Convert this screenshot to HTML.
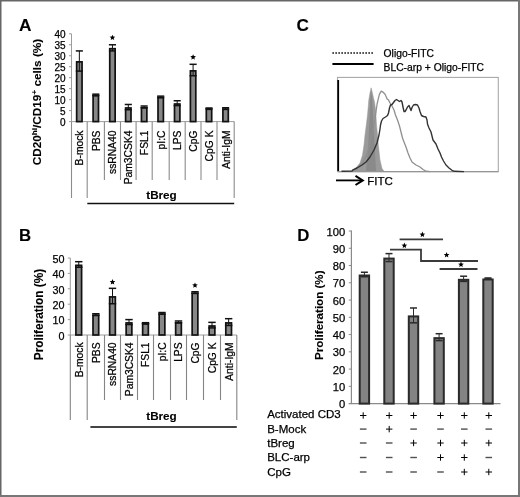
<!DOCTYPE html>
<html><head><meta charset="utf-8"><style>
html,body{margin:0;padding:0;background:#fff;width:520px;height:497px;overflow:hidden;}
svg{filter:blur(0.45px);} svg text{font-family:"Liberation Sans", sans-serif; stroke:#000; stroke-width:0.25px; paint-order:stroke;} svg text[font-weight=bold]{stroke-width:0.1px;}
</style></head><body>
<svg width="520" height="497" viewBox="0 0 520 497" style="position:absolute;left:0;top:0" font-family='"Liberation Sans", sans-serif'>
<rect x="0" y="0" width="520" height="497" fill="#fff"/>
<text x="18.90" y="31.30" font-size="17.3" font-weight="bold" text-anchor="start" fill="#000">A</text>
<text x="18.90" y="241.00" font-size="16.8" font-weight="bold" text-anchor="start" fill="#000">B</text>
<text x="296.60" y="31.10" font-size="17.2" font-weight="bold" text-anchor="start" fill="#000">C</text>
<text x="297.30" y="241.20" font-size="16.8" font-weight="bold" text-anchor="start" fill="#000">D</text>
<line x1="71.50" y1="33.80" x2="71.50" y2="121.60" stroke="#9c9c9c" stroke-width="1"/>
<line x1="69.00" y1="121.60" x2="71.50" y2="121.60" stroke="#9c9c9c" stroke-width="1"/>
<text x="65.50" y="126.10" font-size="10" text-anchor="end" fill="#000">0</text>
<line x1="69.00" y1="110.62" x2="71.50" y2="110.62" stroke="#9c9c9c" stroke-width="1"/>
<text x="65.50" y="115.12" font-size="10" text-anchor="end" fill="#000">5</text>
<line x1="69.00" y1="99.65" x2="71.50" y2="99.65" stroke="#9c9c9c" stroke-width="1"/>
<text x="65.50" y="104.15" font-size="10" text-anchor="end" fill="#000">10</text>
<line x1="69.00" y1="88.67" x2="71.50" y2="88.67" stroke="#9c9c9c" stroke-width="1"/>
<text x="65.50" y="93.17" font-size="10" text-anchor="end" fill="#000">15</text>
<line x1="69.00" y1="77.70" x2="71.50" y2="77.70" stroke="#9c9c9c" stroke-width="1"/>
<text x="65.50" y="82.20" font-size="10" text-anchor="end" fill="#000">20</text>
<line x1="69.00" y1="66.72" x2="71.50" y2="66.72" stroke="#9c9c9c" stroke-width="1"/>
<text x="65.50" y="71.22" font-size="10" text-anchor="end" fill="#000">25</text>
<line x1="69.00" y1="55.75" x2="71.50" y2="55.75" stroke="#9c9c9c" stroke-width="1"/>
<text x="65.50" y="60.25" font-size="10" text-anchor="end" fill="#000">30</text>
<line x1="69.00" y1="44.78" x2="71.50" y2="44.78" stroke="#9c9c9c" stroke-width="1"/>
<text x="65.50" y="49.28" font-size="10" text-anchor="end" fill="#000">35</text>
<line x1="69.00" y1="33.80" x2="71.50" y2="33.80" stroke="#9c9c9c" stroke-width="1"/>
<text x="65.50" y="38.30" font-size="10" text-anchor="end" fill="#000">40</text>
<line x1="71.50" y1="121.60" x2="234.20" y2="121.60" stroke="#9c9c9c" stroke-width="1"/>
<line x1="71.50" y1="121.60" x2="71.50" y2="198.00" stroke="#8c8c8c" stroke-width="1.1"/>
<line x1="87.20" y1="121.60" x2="87.20" y2="198.00" stroke="#8c8c8c" stroke-width="1.1"/>
<line x1="104.40" y1="121.60" x2="104.40" y2="180.00" stroke="#8c8c8c" stroke-width="1.1"/>
<line x1="120.50" y1="121.60" x2="120.50" y2="180.00" stroke="#8c8c8c" stroke-width="1.1"/>
<line x1="136.10" y1="121.60" x2="136.10" y2="180.00" stroke="#8c8c8c" stroke-width="1.1"/>
<line x1="152.20" y1="121.60" x2="152.20" y2="180.00" stroke="#8c8c8c" stroke-width="1.1"/>
<line x1="169.20" y1="121.60" x2="169.20" y2="180.00" stroke="#8c8c8c" stroke-width="1.1"/>
<line x1="185.20" y1="121.60" x2="185.20" y2="180.00" stroke="#8c8c8c" stroke-width="1.1"/>
<line x1="201.00" y1="121.60" x2="201.00" y2="180.00" stroke="#8c8c8c" stroke-width="1.1"/>
<line x1="217.00" y1="121.60" x2="217.00" y2="180.00" stroke="#8c8c8c" stroke-width="1.1"/>
<line x1="234.20" y1="121.60" x2="234.20" y2="198.00" stroke="#8c8c8c" stroke-width="1.1"/>
<rect x="76.65" y="61.87" width="5.40" height="59.73" fill="#878787" stroke="#111" stroke-width="1.7"/>
<line x1="79.35" y1="50.92" x2="79.35" y2="71.11" stroke="#111" stroke-width="1"/>
<line x1="75.80" y1="50.92" x2="82.90" y2="50.92" stroke="#111" stroke-width="1.5"/>
<line x1="75.80" y1="71.11" x2="82.90" y2="71.11" stroke="#111" stroke-width="1.5"/>
<text x="83.35" y="130.50" font-size="10.3" text-anchor="end" fill="#000" transform="rotate(-90 83.35 130.5)">B-mock</text>
<rect x="93.10" y="95.67" width="5.40" height="25.93" fill="#878787" stroke="#111" stroke-width="1.7"/>
<line x1="95.80" y1="94.16" x2="95.80" y2="95.48" stroke="#111" stroke-width="1"/>
<line x1="92.25" y1="94.16" x2="99.35" y2="94.16" stroke="#111" stroke-width="1.5"/>
<line x1="92.25" y1="95.48" x2="99.35" y2="95.48" stroke="#111" stroke-width="1.5"/>
<text x="99.80" y="130.50" font-size="10.3" text-anchor="end" fill="#000" transform="rotate(-90 99.80000000000001 130.5)">PBS</text>
<rect x="109.75" y="48.70" width="5.40" height="72.90" fill="#878787" stroke="#111" stroke-width="1.7"/>
<line x1="112.45" y1="44.78" x2="112.45" y2="50.92" stroke="#111" stroke-width="1"/>
<line x1="108.90" y1="44.78" x2="116.00" y2="44.78" stroke="#111" stroke-width="1.5"/>
<line x1="108.90" y1="50.92" x2="116.00" y2="50.92" stroke="#111" stroke-width="1.5"/>
<polygon points="112.45,34.68 113.24,36.58 115.30,36.75 113.73,38.09 114.21,40.10 112.45,39.03 110.69,40.10 111.17,38.09 109.60,36.75 111.66,36.58" fill="#000"/>
<text x="116.45" y="130.50" font-size="10.3" text-anchor="end" fill="#000" transform="rotate(-90 116.45 130.5)">ssRNA40</text>
<rect x="125.60" y="107.96" width="5.40" height="13.64" fill="#878787" stroke="#111" stroke-width="1.7"/>
<line x1="128.30" y1="104.48" x2="128.30" y2="109.75" stroke="#111" stroke-width="1"/>
<line x1="124.75" y1="104.48" x2="131.85" y2="104.48" stroke="#111" stroke-width="1.5"/>
<line x1="124.75" y1="109.75" x2="131.85" y2="109.75" stroke="#111" stroke-width="1.5"/>
<text x="132.30" y="130.50" font-size="10.3" text-anchor="end" fill="#000" transform="rotate(-90 132.3 130.5)">Pam3CSK4</text>
<rect x="141.45" y="107.74" width="5.40" height="13.86" fill="#878787" stroke="#111" stroke-width="1.7"/>
<line x1="144.15" y1="106.02" x2="144.15" y2="107.77" stroke="#111" stroke-width="1"/>
<line x1="140.60" y1="106.02" x2="147.70" y2="106.02" stroke="#111" stroke-width="1.5"/>
<line x1="140.60" y1="107.77" x2="147.70" y2="107.77" stroke="#111" stroke-width="1.5"/>
<text x="148.15" y="130.50" font-size="10.3" text-anchor="end" fill="#000" transform="rotate(-90 148.14999999999998 130.5)">FSL1</text>
<rect x="158.00" y="97.65" width="5.40" height="23.95" fill="#878787" stroke="#111" stroke-width="1.7"/>
<line x1="160.70" y1="96.14" x2="160.70" y2="97.45" stroke="#111" stroke-width="1"/>
<line x1="157.15" y1="96.14" x2="164.25" y2="96.14" stroke="#111" stroke-width="1.5"/>
<line x1="157.15" y1="97.45" x2="164.25" y2="97.45" stroke="#111" stroke-width="1.5"/>
<text x="164.70" y="130.50" font-size="10.3" text-anchor="end" fill="#000" transform="rotate(-90 164.7 130.5)">pI:C</text>
<rect x="174.50" y="104.01" width="5.40" height="17.59" fill="#878787" stroke="#111" stroke-width="1.7"/>
<line x1="177.20" y1="100.75" x2="177.20" y2="105.58" stroke="#111" stroke-width="1"/>
<line x1="173.65" y1="100.75" x2="180.75" y2="100.75" stroke="#111" stroke-width="1.5"/>
<line x1="173.65" y1="105.58" x2="180.75" y2="105.58" stroke="#111" stroke-width="1.5"/>
<text x="181.20" y="130.50" font-size="10.3" text-anchor="end" fill="#000" transform="rotate(-90 181.2 130.5)">LPS</text>
<rect x="190.40" y="70.87" width="5.40" height="50.73" fill="#878787" stroke="#111" stroke-width="1.7"/>
<line x1="193.10" y1="64.31" x2="193.10" y2="75.72" stroke="#111" stroke-width="1"/>
<line x1="189.55" y1="64.31" x2="196.65" y2="64.31" stroke="#111" stroke-width="1.5"/>
<line x1="189.55" y1="75.72" x2="196.65" y2="75.72" stroke="#111" stroke-width="1.5"/>
<polygon points="193.10,54.21 193.89,56.12 195.95,56.28 194.38,57.63 194.86,59.64 193.10,58.56 191.34,59.64 191.82,57.63 190.25,56.28 192.31,56.12" fill="#000"/>
<text x="197.10" y="130.50" font-size="10.3" text-anchor="end" fill="#000" transform="rotate(-90 197.1 130.5)">CpG</text>
<rect x="206.30" y="109.28" width="5.40" height="12.32" fill="#878787" stroke="#111" stroke-width="1.7"/>
<line x1="209.00" y1="107.99" x2="209.00" y2="108.87" stroke="#111" stroke-width="1"/>
<line x1="205.45" y1="107.99" x2="212.55" y2="107.99" stroke="#111" stroke-width="1.5"/>
<line x1="205.45" y1="108.87" x2="212.55" y2="108.87" stroke="#111" stroke-width="1.5"/>
<text x="213.00" y="130.50" font-size="10.3" text-anchor="end" fill="#000" transform="rotate(-90 213.0 130.5)">CpG K</text>
<rect x="222.90" y="109.28" width="5.40" height="12.32" fill="#878787" stroke="#111" stroke-width="1.7"/>
<line x1="225.60" y1="107.77" x2="225.60" y2="109.09" stroke="#111" stroke-width="1"/>
<line x1="222.05" y1="107.77" x2="229.15" y2="107.77" stroke="#111" stroke-width="1.5"/>
<line x1="222.05" y1="109.09" x2="229.15" y2="109.09" stroke="#111" stroke-width="1.5"/>
<text x="229.60" y="130.50" font-size="10.3" text-anchor="end" fill="#000" transform="rotate(-90 229.6 130.5)">Anti-IgM</text>
<line x1="87.30" y1="203.60" x2="234.20" y2="203.60" stroke="#111" stroke-width="1.5"/>
<text x="161.50" y="198.60" font-size="11.7" font-weight="bold" text-anchor="middle" fill="#000">tBreg</text>
<line x1="70.30" y1="258.00" x2="70.30" y2="335.00" stroke="#9c9c9c" stroke-width="1"/>
<line x1="67.80" y1="335.00" x2="70.30" y2="335.00" stroke="#9c9c9c" stroke-width="1"/>
<text x="64.50" y="339.80" font-size="10.8" text-anchor="end" fill="#000">0</text>
<line x1="67.80" y1="319.60" x2="70.30" y2="319.60" stroke="#9c9c9c" stroke-width="1"/>
<text x="64.50" y="324.40" font-size="10.8" text-anchor="end" fill="#000">10</text>
<line x1="67.80" y1="304.20" x2="70.30" y2="304.20" stroke="#9c9c9c" stroke-width="1"/>
<text x="64.50" y="309.00" font-size="10.8" text-anchor="end" fill="#000">20</text>
<line x1="67.80" y1="288.80" x2="70.30" y2="288.80" stroke="#9c9c9c" stroke-width="1"/>
<text x="64.50" y="293.60" font-size="10.8" text-anchor="end" fill="#000">30</text>
<line x1="67.80" y1="273.40" x2="70.30" y2="273.40" stroke="#9c9c9c" stroke-width="1"/>
<text x="64.50" y="278.20" font-size="10.8" text-anchor="end" fill="#000">40</text>
<line x1="67.80" y1="258.00" x2="70.30" y2="258.00" stroke="#9c9c9c" stroke-width="1"/>
<text x="64.50" y="262.80" font-size="10.8" text-anchor="end" fill="#000">50</text>
<line x1="70.30" y1="335.00" x2="236.80" y2="335.00" stroke="#9c9c9c" stroke-width="1"/>
<line x1="70.30" y1="335.00" x2="70.30" y2="420.00" stroke="#858585" stroke-width="1.1"/>
<line x1="87.20" y1="335.00" x2="87.20" y2="420.00" stroke="#858585" stroke-width="1.1"/>
<line x1="104.50" y1="335.00" x2="104.50" y2="400.00" stroke="#858585" stroke-width="1.1"/>
<line x1="120.50" y1="335.00" x2="120.50" y2="400.00" stroke="#858585" stroke-width="1.1"/>
<line x1="137.50" y1="335.00" x2="137.50" y2="400.00" stroke="#858585" stroke-width="1.1"/>
<line x1="153.50" y1="335.00" x2="153.50" y2="400.00" stroke="#858585" stroke-width="1.1"/>
<line x1="170.50" y1="335.00" x2="170.50" y2="400.00" stroke="#858585" stroke-width="1.1"/>
<line x1="186.50" y1="335.00" x2="186.50" y2="400.00" stroke="#858585" stroke-width="1.1"/>
<line x1="203.50" y1="335.00" x2="203.50" y2="400.00" stroke="#858585" stroke-width="1.1"/>
<line x1="220.50" y1="335.00" x2="220.50" y2="400.00" stroke="#858585" stroke-width="1.1"/>
<line x1="236.80" y1="335.00" x2="236.80" y2="420.00" stroke="#858585" stroke-width="1.1"/>
<rect x="75.90" y="265.32" width="5.70" height="69.68" fill="#878787" stroke="#111" stroke-width="1.7"/>
<line x1="78.75" y1="261.70" x2="78.75" y2="267.24" stroke="#111" stroke-width="1"/>
<line x1="75.05" y1="261.70" x2="82.45" y2="261.70" stroke="#111" stroke-width="1.5"/>
<line x1="75.05" y1="267.24" x2="82.45" y2="267.24" stroke="#111" stroke-width="1.5"/>
<text x="82.75" y="342.40" font-size="10.3" text-anchor="end" fill="#000" transform="rotate(-90 82.75 342.4)">B-mock</text>
<rect x="93.00" y="315.37" width="5.70" height="19.63" fill="#878787" stroke="#111" stroke-width="1.7"/>
<line x1="95.85" y1="313.75" x2="95.85" y2="315.29" stroke="#111" stroke-width="1"/>
<line x1="92.15" y1="313.75" x2="99.55" y2="313.75" stroke="#111" stroke-width="1.5"/>
<line x1="92.15" y1="315.29" x2="99.55" y2="315.29" stroke="#111" stroke-width="1.5"/>
<text x="99.85" y="342.40" font-size="10.3" text-anchor="end" fill="#000" transform="rotate(-90 99.85 342.4)">PBS</text>
<rect x="109.65" y="296.89" width="5.70" height="38.11" fill="#878787" stroke="#111" stroke-width="1.7"/>
<line x1="112.50" y1="288.34" x2="112.50" y2="303.74" stroke="#111" stroke-width="1"/>
<line x1="108.80" y1="288.34" x2="116.20" y2="288.34" stroke="#111" stroke-width="1.5"/>
<line x1="108.80" y1="303.74" x2="116.20" y2="303.74" stroke="#111" stroke-width="1.5"/>
<polygon points="112.50,279.04 113.29,280.95 115.35,281.11 113.78,282.46 114.26,284.47 112.50,283.39 110.74,284.47 111.22,282.46 109.65,281.11 111.71,280.95" fill="#000"/>
<text x="116.50" y="342.40" font-size="10.3" text-anchor="end" fill="#000" transform="rotate(-90 116.5 342.4)">ssRNA40</text>
<rect x="126.15" y="322.91" width="5.70" height="12.09" fill="#878787" stroke="#111" stroke-width="1.7"/>
<line x1="129.00" y1="319.60" x2="129.00" y2="324.53" stroke="#111" stroke-width="1"/>
<line x1="125.30" y1="319.60" x2="132.70" y2="319.60" stroke="#111" stroke-width="1.5"/>
<line x1="125.30" y1="324.53" x2="132.70" y2="324.53" stroke="#111" stroke-width="1.5"/>
<text x="133.00" y="342.40" font-size="10.3" text-anchor="end" fill="#000" transform="rotate(-90 133.0 342.4)">Pam3CSK4</text>
<rect x="142.65" y="323.99" width="5.70" height="11.01" fill="#878787" stroke="#111" stroke-width="1.7"/>
<line x1="145.50" y1="322.68" x2="145.50" y2="323.60" stroke="#111" stroke-width="1"/>
<line x1="141.80" y1="322.68" x2="149.20" y2="322.68" stroke="#111" stroke-width="1.5"/>
<line x1="141.80" y1="323.60" x2="149.20" y2="323.60" stroke="#111" stroke-width="1.5"/>
<text x="149.50" y="342.40" font-size="10.3" text-anchor="end" fill="#000" transform="rotate(-90 149.5 342.4)">FSL1</text>
<rect x="159.15" y="314.14" width="5.70" height="20.86" fill="#878787" stroke="#111" stroke-width="1.7"/>
<line x1="162.00" y1="312.52" x2="162.00" y2="314.06" stroke="#111" stroke-width="1"/>
<line x1="158.30" y1="312.52" x2="165.70" y2="312.52" stroke="#111" stroke-width="1.5"/>
<line x1="158.30" y1="314.06" x2="165.70" y2="314.06" stroke="#111" stroke-width="1.5"/>
<text x="166.00" y="342.40" font-size="10.3" text-anchor="end" fill="#000" transform="rotate(-90 166.0 342.4)">pI:C</text>
<rect x="175.65" y="322.76" width="5.70" height="12.24" fill="#878787" stroke="#111" stroke-width="1.7"/>
<line x1="178.50" y1="320.99" x2="178.50" y2="322.83" stroke="#111" stroke-width="1"/>
<line x1="174.80" y1="320.99" x2="182.20" y2="320.99" stroke="#111" stroke-width="1.5"/>
<line x1="174.80" y1="322.83" x2="182.20" y2="322.83" stroke="#111" stroke-width="1.5"/>
<text x="182.50" y="342.40" font-size="10.3" text-anchor="end" fill="#000" transform="rotate(-90 182.5 342.4)">LPS</text>
<rect x="192.15" y="293.35" width="5.70" height="41.65" fill="#878787" stroke="#111" stroke-width="1.7"/>
<line x1="195.00" y1="291.73" x2="195.00" y2="293.27" stroke="#111" stroke-width="1"/>
<line x1="191.30" y1="291.73" x2="198.70" y2="291.73" stroke="#111" stroke-width="1.5"/>
<line x1="191.30" y1="293.27" x2="198.70" y2="293.27" stroke="#111" stroke-width="1.5"/>
<polygon points="195.00,282.43 195.79,284.33 197.85,284.50 196.28,285.84 196.76,287.85 195.00,286.78 193.24,287.85 193.72,285.84 192.15,284.50 194.21,284.33" fill="#000"/>
<text x="199.00" y="342.40" font-size="10.3" text-anchor="end" fill="#000" transform="rotate(-90 199.0 342.4)">CpG</text>
<rect x="209.15" y="325.99" width="5.70" height="9.01" fill="#878787" stroke="#111" stroke-width="1.7"/>
<line x1="212.00" y1="322.37" x2="212.00" y2="327.92" stroke="#111" stroke-width="1"/>
<line x1="208.30" y1="322.37" x2="215.70" y2="322.37" stroke="#111" stroke-width="1.5"/>
<line x1="208.30" y1="327.92" x2="215.70" y2="327.92" stroke="#111" stroke-width="1.5"/>
<text x="216.00" y="342.40" font-size="10.3" text-anchor="end" fill="#000" transform="rotate(-90 216.0 342.4)">CpG K</text>
<rect x="225.80" y="322.91" width="5.70" height="12.09" fill="#878787" stroke="#111" stroke-width="1.7"/>
<line x1="228.65" y1="318.68" x2="228.65" y2="325.45" stroke="#111" stroke-width="1"/>
<line x1="224.95" y1="318.68" x2="232.35" y2="318.68" stroke="#111" stroke-width="1.5"/>
<line x1="224.95" y1="325.45" x2="232.35" y2="325.45" stroke="#111" stroke-width="1.5"/>
<text x="232.65" y="342.40" font-size="10.3" text-anchor="end" fill="#000" transform="rotate(-90 232.65 342.4)">Anti-IgM</text>
<line x1="90.40" y1="427.00" x2="236.80" y2="427.00" stroke="#444" stroke-width="1.8"/>
<text x="161.50" y="420.30" font-size="11.7" font-weight="bold" text-anchor="middle" fill="#000">tBreg</text>
<text x="40.8" y="165.3" font-size="11.8" font-weight="bold" transform="rotate(-90 40.8 165.3)">CD20<tspan font-size="8" dy="-4.2">hi</tspan><tspan dy="4.2">/CD19</tspan><tspan font-size="8" dy="-4.2">+</tspan><tspan dy="4.2"> cells (%)</tspan></text>
<text x="43" y="360.2" font-size="11.85" font-weight="bold" transform="rotate(-90 43 360.2)">Proliferation (%)</text>
<line x1="332.40" y1="53.00" x2="373.60" y2="53.00" stroke="#000" stroke-width="1.6" stroke-dasharray="1.5 1.5"/>
<line x1="332.40" y1="64.00" x2="373.60" y2="64.00" stroke="#000" stroke-width="2"/>
<text x="383.60" y="57.00" font-size="10.3" text-anchor="start" fill="#000">Oligo-FITC</text>
<text x="383.60" y="71.00" font-size="10.3" text-anchor="start" fill="#000">BLC-arp + Oligo-FITC</text>
<rect x="337.5" y="77.4" width="160.8" height="94.2" fill="none" stroke="#a8a8a8" stroke-width="1.1"/>
<line x1="337.50" y1="171.60" x2="498.30" y2="171.60" stroke="#959595" stroke-width="1.2"/>
<path d="M352,171.3 L356,168 L360,163 L362.5,155 L364,145 L365,135 L366.3,125 L367.5,115 L368.3,106 L368.8,100 L369.8,94 L371.1,87.8 L372.2,92 L373.5,98 L374.5,102 L375.6,110 L376.5,125 L377.5,135 L378.3,145 L380,160 L382,168.5 L384,171.3 Z" fill="#9a9a9a" stroke="#999" stroke-width="0.5"/>
<path d="M366,171 L368,150 L369.5,120 L370.3,100 L371.1,90 L372,98 L373,115 L374.3,140 L376,171 Z" fill="#8a8a8a"/>
<path d="M352.5,170.8 L355,169.5 L359,166 L363,162 L367,154 L369.5,145 L371.5,135 L374,125 L375.5,115 L376.5,108 L377.2,103.5 L378.2,99.2 L379.4,94.3 L381.2,91.2 L383.1,92.2 L384.9,94 L386.2,96.8 L387,98.8 L388.5,100 L390,103 L392,106 L394,110 L395.5,115 L397.5,120 L399.5,126 L401,132 L402.5,138 L404,142 L406,147 L408,153 L410,158 L412,162 L416,165 L420,167 L423,169.5 L426,171.2 L430,171.6" fill="none" stroke="#8f8f8f" stroke-width="1.3" stroke-linejoin="round"/>
<path d="M341.5,171.2 L352,171 L353,169.8 L357,168 L362,165 L366,162 L370,157 L374,150 L377,143 L379,135 L380,129 L380.5,125 L381.5,121 L383,118.5 L385.5,117 L387.5,115.5 L388.5,113 L389.5,108 L390.5,105 L392,104.5 L393.5,102.5 L395,100.5 L396.5,99.5 L398,100.5 L399.5,101.5 L401,100.5 L402,102 L403,107 L404,111.5 L405,111.5 L406,110 L407.5,107 L409,105.5 L410,108 L411,110.5 L412,107.5 L413.5,105 L415.5,104.5 L417.5,105 L419,108 L420,111.5 L421.5,115.5 L423.5,116.5 L426,117 L427,120 L427.5,124 L429,128 L431,132 L432,136 L433,140 L436,144 L438,149 L440,153 L441.5,157 L443.5,161 L446,165 L449,168 L452,170.3 L454.5,171.3 L464,171.6" fill="none" stroke="#333" stroke-width="1.4" stroke-linejoin="round"/>
<line x1="338.20" y1="80.00" x2="338.20" y2="171.00" stroke="#000" stroke-width="1.8"/>
<line x1="336.00" y1="180.40" x2="362.00" y2="180.40" stroke="#000" stroke-width="1.8"/>
<path d="M355.5,175.8 L362.8,180.4 L355.5,185" fill="none" stroke="#000" stroke-width="2"/>
<text x="367.30" y="184.70" font-size="11.5" text-anchor="start" fill="#000">FITC</text>
<line x1="351.40" y1="230.50" x2="351.40" y2="403.60" stroke="#8a8a8a" stroke-width="1.2"/>
<line x1="348.80" y1="403.60" x2="351.40" y2="403.60" stroke="#8a8a8a" stroke-width="1"/>
<text x="345.20" y="408.10" font-size="11.2" text-anchor="end" fill="#000">0</text>
<line x1="348.80" y1="386.34" x2="351.40" y2="386.34" stroke="#8a8a8a" stroke-width="1"/>
<text x="345.20" y="390.84" font-size="11.2" text-anchor="end" fill="#000">10</text>
<line x1="348.80" y1="369.08" x2="351.40" y2="369.08" stroke="#8a8a8a" stroke-width="1"/>
<text x="345.20" y="373.58" font-size="11.2" text-anchor="end" fill="#000">20</text>
<line x1="348.80" y1="351.82" x2="351.40" y2="351.82" stroke="#8a8a8a" stroke-width="1"/>
<text x="345.20" y="356.32" font-size="11.2" text-anchor="end" fill="#000">30</text>
<line x1="348.80" y1="334.56" x2="351.40" y2="334.56" stroke="#8a8a8a" stroke-width="1"/>
<text x="345.20" y="339.06" font-size="11.2" text-anchor="end" fill="#000">40</text>
<line x1="348.80" y1="317.30" x2="351.40" y2="317.30" stroke="#8a8a8a" stroke-width="1"/>
<text x="345.20" y="321.80" font-size="11.2" text-anchor="end" fill="#000">50</text>
<line x1="348.80" y1="300.04" x2="351.40" y2="300.04" stroke="#8a8a8a" stroke-width="1"/>
<text x="345.20" y="304.54" font-size="11.2" text-anchor="end" fill="#000">60</text>
<line x1="348.80" y1="282.78" x2="351.40" y2="282.78" stroke="#8a8a8a" stroke-width="1"/>
<text x="345.20" y="287.28" font-size="11.2" text-anchor="end" fill="#000">70</text>
<line x1="348.80" y1="265.52" x2="351.40" y2="265.52" stroke="#8a8a8a" stroke-width="1"/>
<text x="345.20" y="270.02" font-size="11.2" text-anchor="end" fill="#000">80</text>
<line x1="348.80" y1="248.26" x2="351.40" y2="248.26" stroke="#8a8a8a" stroke-width="1"/>
<text x="345.20" y="252.76" font-size="11.2" text-anchor="end" fill="#000">90</text>
<line x1="348.80" y1="231.00" x2="351.40" y2="231.00" stroke="#8a8a8a" stroke-width="1"/>
<text x="345.20" y="235.50" font-size="11.2" text-anchor="end" fill="#000">100</text>
<line x1="348.80" y1="403.60" x2="500.50" y2="403.60" stroke="#8a8a8a" stroke-width="1.1"/>
<rect x="359.70" y="275.50" width="9.40" height="128.10" fill="#838383" stroke="#2a2a2a" stroke-width="2"/>
<line x1="364.40" y1="272.25" x2="364.40" y2="276.74" stroke="#2a2a2a" stroke-width="1"/>
<line x1="360.90" y1="272.25" x2="367.90" y2="272.25" stroke="#2a2a2a" stroke-width="1.5"/>
<line x1="360.90" y1="276.74" x2="367.90" y2="276.74" stroke="#2a2a2a" stroke-width="1.5"/>
<rect x="384.30" y="258.58" width="9.40" height="145.02" fill="#838383" stroke="#2a2a2a" stroke-width="2"/>
<line x1="389.00" y1="253.61" x2="389.00" y2="261.55" stroke="#2a2a2a" stroke-width="1"/>
<line x1="385.50" y1="253.61" x2="392.50" y2="253.61" stroke="#2a2a2a" stroke-width="1.5"/>
<line x1="385.50" y1="261.55" x2="392.50" y2="261.55" stroke="#2a2a2a" stroke-width="1.5"/>
<rect x="408.80" y="316.40" width="9.40" height="87.20" fill="#838383" stroke="#2a2a2a" stroke-width="2"/>
<line x1="413.50" y1="307.98" x2="413.50" y2="322.82" stroke="#2a2a2a" stroke-width="1"/>
<line x1="410.00" y1="307.98" x2="417.00" y2="307.98" stroke="#2a2a2a" stroke-width="1.5"/>
<line x1="410.00" y1="322.82" x2="417.00" y2="322.82" stroke="#2a2a2a" stroke-width="1.5"/>
<rect x="434.40" y="338.15" width="9.40" height="65.45" fill="#838383" stroke="#2a2a2a" stroke-width="2"/>
<line x1="439.10" y1="333.70" x2="439.10" y2="340.60" stroke="#2a2a2a" stroke-width="1"/>
<line x1="435.60" y1="333.70" x2="442.60" y2="333.70" stroke="#2a2a2a" stroke-width="1.5"/>
<line x1="435.60" y1="340.60" x2="442.60" y2="340.60" stroke="#2a2a2a" stroke-width="1.5"/>
<rect x="458.90" y="279.81" width="9.40" height="123.79" fill="#838383" stroke="#2a2a2a" stroke-width="2"/>
<line x1="463.60" y1="276.22" x2="463.60" y2="281.40" stroke="#2a2a2a" stroke-width="1"/>
<line x1="460.10" y1="276.22" x2="467.10" y2="276.22" stroke="#2a2a2a" stroke-width="1.5"/>
<line x1="460.10" y1="281.40" x2="467.10" y2="281.40" stroke="#2a2a2a" stroke-width="1.5"/>
<rect x="483.30" y="279.47" width="9.40" height="124.13" fill="#838383" stroke="#2a2a2a" stroke-width="2"/>
<line x1="488.00" y1="277.95" x2="488.00" y2="278.98" stroke="#2a2a2a" stroke-width="1"/>
<line x1="484.50" y1="277.95" x2="491.50" y2="277.95" stroke="#2a2a2a" stroke-width="1.5"/>
<line x1="484.50" y1="278.98" x2="491.50" y2="278.98" stroke="#2a2a2a" stroke-width="1.5"/>
<text x="322.8" y="360" font-size="11.6" font-weight="bold" transform="rotate(-90 322.8 360)">Proliferation (%)</text>
<line x1="399.60" y1="239.40" x2="443.00" y2="239.40" stroke="#3a3a3a" stroke-width="1.8"/>
<path d="M390,249.6 L421,249.6 L421,261 L478,261" fill="none" stroke="#3a3a3a" stroke-width="1.8"/>
<line x1="439.60" y1="269.00" x2="477.50" y2="269.00" stroke="#3a3a3a" stroke-width="1.8"/>
<polygon points="422.40,231.60 423.19,233.51 425.25,233.67 423.68,235.02 424.16,237.03 422.40,235.95 420.64,237.03 421.12,235.02 419.55,233.67 421.61,233.51" fill="#000"/>
<polygon points="404.40,242.60 405.19,244.51 407.25,244.67 405.68,246.02 406.16,248.03 404.40,246.95 402.64,248.03 403.12,246.02 401.55,244.67 403.61,244.51" fill="#000"/>
<polygon points="446.60,252.00 447.39,253.91 449.45,254.07 447.88,255.42 448.36,257.43 446.60,256.35 444.84,257.43 445.32,255.42 443.75,254.07 445.81,253.91" fill="#000"/>
<polygon points="461.00,261.60 461.79,263.51 463.85,263.67 462.28,265.02 462.76,267.03 461.00,265.95 459.24,267.03 459.72,265.02 458.15,263.67 460.21,263.51" fill="#000"/>
<text x="267.20" y="418.40" font-size="11.5" text-anchor="start" fill="#000">Activated CD3</text>
<line x1="360.00" y1="415.50" x2="366.40" y2="415.50" stroke="#000" stroke-width="1"/>
<line x1="363.20" y1="412.30" x2="363.20" y2="418.70" stroke="#000" stroke-width="1"/>
<line x1="386.00" y1="415.50" x2="392.40" y2="415.50" stroke="#000" stroke-width="1"/>
<line x1="389.20" y1="412.30" x2="389.20" y2="418.70" stroke="#000" stroke-width="1"/>
<line x1="410.40" y1="415.50" x2="416.80" y2="415.50" stroke="#000" stroke-width="1"/>
<line x1="413.60" y1="412.30" x2="413.60" y2="418.70" stroke="#000" stroke-width="1"/>
<line x1="437.30" y1="415.50" x2="443.70" y2="415.50" stroke="#000" stroke-width="1"/>
<line x1="440.50" y1="412.30" x2="440.50" y2="418.70" stroke="#000" stroke-width="1"/>
<line x1="461.10" y1="415.50" x2="467.50" y2="415.50" stroke="#000" stroke-width="1"/>
<line x1="464.30" y1="412.30" x2="464.30" y2="418.70" stroke="#000" stroke-width="1"/>
<line x1="485.60" y1="415.50" x2="492.00" y2="415.50" stroke="#000" stroke-width="1"/>
<line x1="488.80" y1="412.30" x2="488.80" y2="418.70" stroke="#000" stroke-width="1"/>
<text x="267.20" y="432.50" font-size="11.5" text-anchor="start" fill="#000">B-Mock</text>
<line x1="359.90" y1="429.10" x2="366.50" y2="429.10" stroke="#505050" stroke-width="1.4"/>
<line x1="386.00" y1="429.10" x2="392.40" y2="429.10" stroke="#000" stroke-width="1"/>
<line x1="389.20" y1="425.90" x2="389.20" y2="432.30" stroke="#000" stroke-width="1"/>
<line x1="410.30" y1="429.10" x2="416.90" y2="429.10" stroke="#505050" stroke-width="1.4"/>
<line x1="437.20" y1="429.10" x2="443.80" y2="429.10" stroke="#505050" stroke-width="1.4"/>
<line x1="461.00" y1="429.10" x2="467.60" y2="429.10" stroke="#505050" stroke-width="1.4"/>
<line x1="485.50" y1="429.10" x2="492.10" y2="429.10" stroke="#505050" stroke-width="1.4"/>
<text x="267.20" y="446.90" font-size="11.5" text-anchor="start" fill="#000">tBreg</text>
<line x1="359.90" y1="443.00" x2="366.50" y2="443.00" stroke="#505050" stroke-width="1.4"/>
<line x1="385.90" y1="443.00" x2="392.50" y2="443.00" stroke="#505050" stroke-width="1.4"/>
<line x1="410.40" y1="443.00" x2="416.80" y2="443.00" stroke="#000" stroke-width="1"/>
<line x1="413.60" y1="439.80" x2="413.60" y2="446.20" stroke="#000" stroke-width="1"/>
<line x1="437.30" y1="443.00" x2="443.70" y2="443.00" stroke="#000" stroke-width="1"/>
<line x1="440.50" y1="439.80" x2="440.50" y2="446.20" stroke="#000" stroke-width="1"/>
<line x1="461.10" y1="443.00" x2="467.50" y2="443.00" stroke="#000" stroke-width="1"/>
<line x1="464.30" y1="439.80" x2="464.30" y2="446.20" stroke="#000" stroke-width="1"/>
<line x1="485.60" y1="443.00" x2="492.00" y2="443.00" stroke="#000" stroke-width="1"/>
<line x1="488.80" y1="439.80" x2="488.80" y2="446.20" stroke="#000" stroke-width="1"/>
<text x="267.20" y="461.30" font-size="11.5" text-anchor="start" fill="#000">BLC-arp</text>
<line x1="359.90" y1="457.50" x2="366.50" y2="457.50" stroke="#505050" stroke-width="1.4"/>
<line x1="385.90" y1="457.50" x2="392.50" y2="457.50" stroke="#505050" stroke-width="1.4"/>
<line x1="410.30" y1="457.50" x2="416.90" y2="457.50" stroke="#505050" stroke-width="1.4"/>
<line x1="437.30" y1="457.50" x2="443.70" y2="457.50" stroke="#000" stroke-width="1"/>
<line x1="440.50" y1="454.30" x2="440.50" y2="460.70" stroke="#000" stroke-width="1"/>
<line x1="461.10" y1="457.50" x2="467.50" y2="457.50" stroke="#000" stroke-width="1"/>
<line x1="464.30" y1="454.30" x2="464.30" y2="460.70" stroke="#000" stroke-width="1"/>
<line x1="485.50" y1="457.50" x2="492.10" y2="457.50" stroke="#505050" stroke-width="1.4"/>
<text x="267.20" y="475.70" font-size="11.5" text-anchor="start" fill="#000">CpG</text>
<line x1="359.90" y1="472.00" x2="366.50" y2="472.00" stroke="#505050" stroke-width="1.4"/>
<line x1="385.90" y1="472.00" x2="392.50" y2="472.00" stroke="#505050" stroke-width="1.4"/>
<line x1="410.30" y1="472.00" x2="416.90" y2="472.00" stroke="#505050" stroke-width="1.4"/>
<line x1="437.20" y1="472.00" x2="443.80" y2="472.00" stroke="#505050" stroke-width="1.4"/>
<line x1="461.10" y1="472.00" x2="467.50" y2="472.00" stroke="#000" stroke-width="1"/>
<line x1="464.30" y1="468.80" x2="464.30" y2="475.20" stroke="#000" stroke-width="1"/>
<line x1="485.60" y1="472.00" x2="492.00" y2="472.00" stroke="#000" stroke-width="1"/>
<line x1="488.80" y1="468.80" x2="488.80" y2="475.20" stroke="#000" stroke-width="1"/>
<rect x="0.75" y="0.75" width="518.5" height="495.5" fill="none" stroke="#666" stroke-width="1.5"/>
<line x1="519.00" y1="0.00" x2="519.00" y2="497.00" stroke="#777" stroke-width="2"/>
<line x1="0.00" y1="496.00" x2="520.00" y2="496.00" stroke="#777" stroke-width="2"/>
</svg>
</body></html>
